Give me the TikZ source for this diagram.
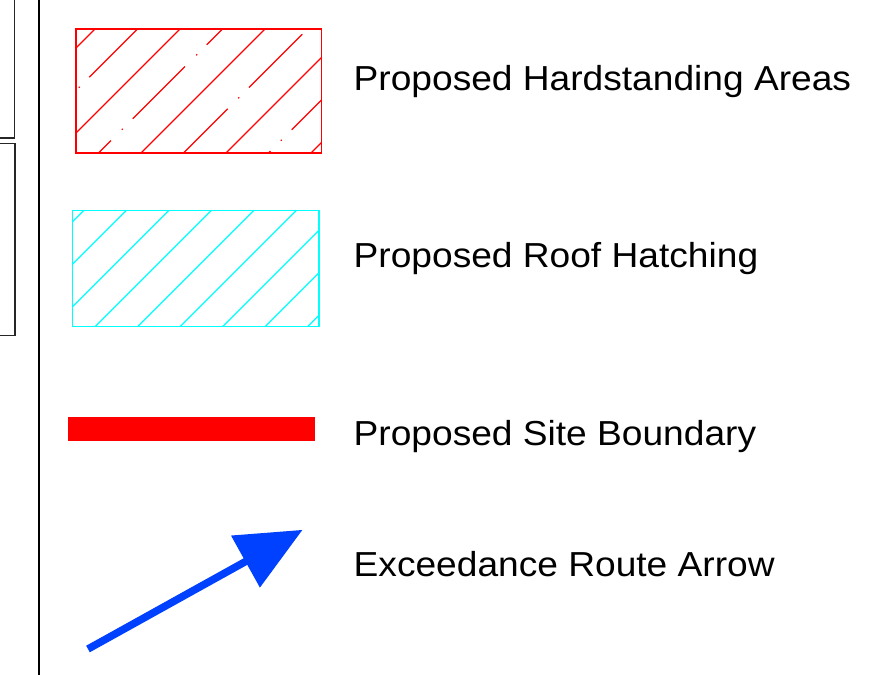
\documentclass[tikz,border=0pt]{standalone}
\usepackage{fontspec}
\setmainfont{Liberation Sans}
\usepackage{graphicx}
\usetikzlibrary{calc}
\definecolor{hatchred}{RGB}{255,0,0}
\definecolor{hatchcyan}{RGB}{0,255,255}
\definecolor{arrowblue}{RGB}{0,64,255}
\tikzset{
  frameline/.style={draw=black!85, line width=1.3},
  divider/.style={draw=black, line width=2},
  redline/.style={draw=hatchred, line width=1.2},
  redframe/.style={draw=hatchred, line width=1.5},
  cyanline/.style={draw=hatchcyan, line width=1.2},
  cyanframe/.style={draw=hatchcyan, line width=1.5},
  legendtext/.style={anchor=base west, inner sep=0pt, font=\fontsize{34.7}{40}\selectfont},
}
\newcommand{\legtxt}[1]{\scalebox{1.07}[1]{#1}}
\begin{document}
\begin{tikzpicture}[x=1pt,y=-1pt]
\fill[white] (0,0) rectangle (892,675);
\useasboundingbox (0,0) rectangle (892,675);

% left frame fragments
\draw[frameline] (0,138) -- (14.5,138) -- (14.5,0);
\draw[frameline] (0,143.3) -- (15,143.3) -- (15,335.7) -- (0,335.7);
\draw[divider] (38.5,0) -- (38.5,675);

% red hatched box
\draw[redline] (76,48) -- (95,29);
\draw[redline] (76,133) -- (180,29);
\draw[redline] (141,153) -- (265,29);
\draw[redline] (226,153) -- (321.7,57.3);
\draw[redline] (311,153) -- (321.7,142.3);
\draw[redline] (89.3,77.2) -- (137.5,29);
\draw[redline] (98.5,153) -- (111,140.5);
\draw[redline] (132.7,118.8) -- (185,66.5);
\draw[redline] (206.7,44.8) -- (222.5,29);
\draw[redline] (183.5,153) -- (227.7,108.8);
\draw[redline] (249,87.5) -- (302.3,34.2);
\draw[redline] (268.5,153) -- (270.5,151);
\draw[redline] (291.7,129.8) -- (321.7,99.8);
\foreach \p in {(79.3,87.2),(122.3,129.2),(196.7,54.8),(238.7,97.8),(281.3,140.2)}
  \fill[hatchred] \p circle[radius=0.9];
\draw[redframe] (76,29) rectangle (321.7,153);
\node[legendtext] (t1) at (353.5,90.7) {\legtxt{Proposed Hardstanding Areas}};

% cyan hatched box
\begin{scope}
\clip (72.7,210.7) rectangle (319,326.7);
\foreach \c in {294.2,336.7,379.2,421.7,464.2,506.7,549.2,591.7,634.2}
  \draw[cyanline] (\c-335,335) -- (\c-200,200);
\end{scope}
\draw[cyanframe] (72.7,210.7) rectangle (319,326.7);
\node[legendtext] (t2) at (353.5,267.4) {\legtxt{Proposed Roof Hatching}};

% site boundary
\fill[hatchred] (68.3,417.3) rectangle (315,441.3);
\node[legendtext] (t3) at (353.5,445.5) {\legtxt{Proposed Site Boundary}};

% exceedance arrow
\coordinate (as) at (88,649);
\coordinate (at) at (302.3,530);
\coordinate (ab) at ($(as)!0.7348!(at)$);
\draw[arrowblue, line width=7.5] (as) -- ($(as)!0.76!(at)$);
\fill[arrowblue] (at) -- ($(ab)!29.75pt!90:(at)$) -- ($(ab)!29.75pt!-90:(at)$) -- cycle;
\node[legendtext] (t4) at (353.5,576.6) {\legtxt{Exceedance Route Arrow}};
\end{tikzpicture}
\end{document}
